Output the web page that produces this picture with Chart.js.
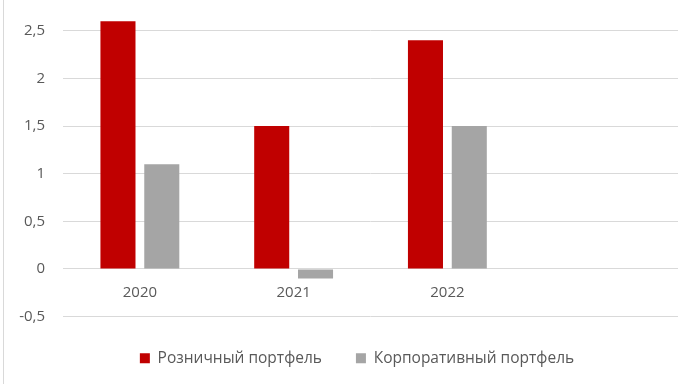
<!DOCTYPE html>
<html>
<head>
<meta charset="utf-8">
<script src="https://cdn.jsdelivr.net/npm/chart.js@4"></script>
<style>
  html, body { margin: 0; padding: 0; background: #fff; }
  #wrap { position: absolute; left: 0; top: 0; width: 678px; height: 384px; }
  #wrap::before { content: ''; position: absolute; left: 3px; top: 0; bottom: 0; width: 1px; background: #d9d9d9; }
</style>
</head>
<body>
<div id="wrap"><canvas id="chart" width="678" height="384"></canvas></div>
<script>
// data
const years = ['2020', '2021', '2022', ''];
const retail = [2.6, 1.5, 2.4, null];
const corporate = [1.1, -0.1, 1.5, null];
const yTicks = [-0.5, 0, 0.5, 1, 1.5, 2, 2.5];

const fmt = v => String(v).replace('.', ',');

// legend in the original is centred a bit right of the canvas middle
const shiftLegend = {
    id: 'shiftLegend',
    afterLayout(chart) { chart.legend.left += 36; }
};

new Chart(document.getElementById('chart'), {
    type: 'bar',
    data: {
        labels: years,
        datasets: [
            { label: 'Розничный портфель', data: retail, backgroundColor: '#c00000', clip: false },
            { label: 'Корпоративный портфель', data: corporate, backgroundColor: '#a5a5a5', clip: false }
        ]
    },
    options: {
        responsive: false,
        animation: false,
        layout: { padding: { left: 0, right: 0, top: 0, bottom: 8 } },
        datasets: { bar: { categoryPercentage: 0.57, barPercentage: 0.8 } },
        plugins: {
            tooltip: { enabled: false },
            legend: {
                position: 'bottom',
                labels: {
                    boxWidth: 10, boxHeight: 10, padding: 34,
                    color: '#595959',
                    font: { family: 'Open Sans', size: 15.5 }
                }
            }
        },
        scales: {
            x: {
                position: { y: 0 },
                grid: { display: false, drawTicks: false },
                border: { display: true, color: '#d9d9d9' },
                ticks: { color: '#595959', padding: 15, font: { family: 'Open Sans', size: 15 } }
            },
            y: {
                min: -0.5, max: 2.54,
                afterBuildTicks: s => { s.ticks = yTicks.map(v => ({ value: v })); },
                afterFit: s => { s.width = 63; },
                grid: { color: '#d9d9d9', drawTicks: false },
                border: { display: false },
                ticks: { color: '#595959', padding: 18, font: { family: 'Open Sans', size: 15 }, callback: v => fmt(v) }
            }
        }
    },
    plugins: [shiftLegend]
});
</script>
</body>
</html>
